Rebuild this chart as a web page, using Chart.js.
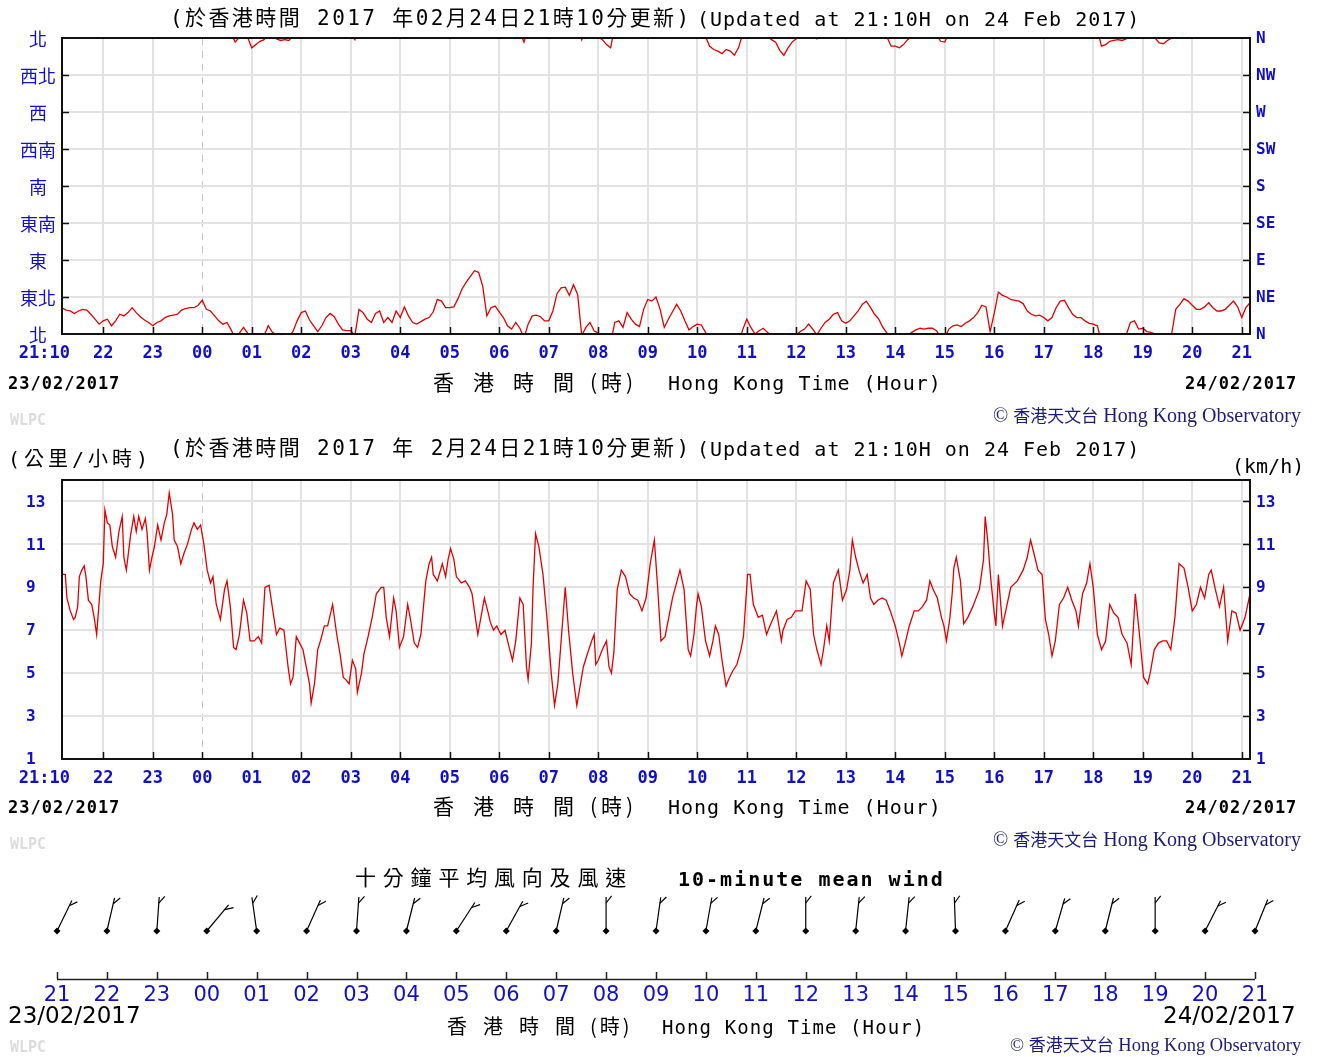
<!DOCTYPE html>
<html><head><meta charset="utf-8">
<script src="https://cdn.jsdelivr.net/npm/chart.js@4.4.1/dist/chart.umd.min.js"></script>
<style>
body{margin:0;background:#fff;width:1320px;height:1057px;position:relative;overflow:hidden;}
canvas{position:absolute;left:0;}
.t{position:absolute;white-space:nowrap;line-height:1;color:#000;}
.mono{font-family:'DejaVu Sans Mono','Noto Sans CJK TC',monospace;}
.cjk{font-family:'Noto Sans CJK TC',sans-serif;}
.date{font-family:'DejaVu Sans Mono',monospace;font-weight:bold;font-size:17px;letter-spacing:1px;}
.wlpc{font-family:'DejaVu Sans Mono',monospace;font-weight:bold;font-size:15px;color:#dcdcdc;}
.hko{font-family:'Liberation Serif',serif;font-size:20px;color:#1c1c7a;}
.hko .c{font-family:'Noto Sans CJK TC',sans-serif;font-size:17px;}
</style></head><body>
<canvas id="c1" width="1320" height="440" style="top:0"></canvas>
<canvas id="c2" width="1320" height="430" style="top:430px"></canvas>
<canvas id="c3" width="1320" height="197" style="top:860px"></canvas>

<!-- panel 1 texts -->
<div class="t mono" style="left:170px;top:8px;font-size:21px;letter-spacing:2.4px;">(於香港時間 2017 年02月24日21時10分更新)</div>
<div class="t mono" style="left:697px;top:9px;font-size:20px;letter-spacing:1px;">(Updated at 21:10H on 24 Feb 2017)</div>
<div class="t date" style="left:8px;top:375px;">23/02/2017</div>
<div class="t date" style="left:1185px;top:375px;">24/02/2017</div>
<div class="t cjk" style="left:433px;top:371px;font-size:21px;letter-spacing:19px;">香港時間</div>
<div class="t cjk" style="left:590px;top:371px;font-size:21px;letter-spacing:4px;">(時)</div>
<div class="t mono" style="left:668px;top:373px;font-size:20px;letter-spacing:1px;">Hong Kong Time (Hour)</div>
<div class="t wlpc" style="left:10px;top:413px;">WLPC</div>
<div class="t hko" style="left:993px;top:405px;">©&nbsp;<span class="c">香港天文台</span> Hong Kong Observatory</div>

<!-- panel 2 texts -->
<div class="t mono" style="left:170px;top:438px;font-size:21px;letter-spacing:2.4px;">(於香港時間 2017 年 2月24日21時10分更新)</div>
<div class="t mono" style="left:697px;top:439px;font-size:20px;letter-spacing:1px;">(Updated at 21:10H on 24 Feb 2017)</div>
<div class="t mono" style="left:8px;top:449px;font-size:20px;letter-spacing:4px;">(公里/小時)</div>
<div class="t mono" style="left:1232px;top:456px;font-size:20px;">(km/h)</div>
<div class="t date" style="left:8px;top:799px;">23/02/2017</div>
<div class="t date" style="left:1185px;top:799px;">24/02/2017</div>
<div class="t cjk" style="left:433px;top:795px;font-size:21px;letter-spacing:19px;">香港時間</div>
<div class="t cjk" style="left:590px;top:795px;font-size:21px;letter-spacing:4px;">(時)</div>
<div class="t mono" style="left:668px;top:797px;font-size:20px;letter-spacing:1px;">Hong Kong Time (Hour)</div>
<div class="t wlpc" style="left:10px;top:837px;">WLPC</div>
<div class="t hko" style="left:993px;top:829px;">©&nbsp;<span class="c">香港天文台</span> Hong Kong Observatory</div>

<!-- panel 3 texts -->
<div class="t cjk" style="left:355px;top:866px;font-size:21px;letter-spacing:6.8px;">十分鐘平均風向及風速</div>
<div class="t mono" style="left:678px;top:869px;font-size:20px;font-weight:bold;letter-spacing:2px;">10-minute mean wind</div>
<div class="t" style="left:8px;top:1004px;font-family:'DejaVu Sans',sans-serif;font-size:23px;">23/02/2017</div>
<div class="t" style="left:1163px;top:1004px;font-family:'DejaVu Sans',sans-serif;font-size:23px;">24/02/2017</div>
<div class="t cjk" style="left:447px;top:1016px;font-size:20px;letter-spacing:16px;">香港時間</div>
<div class="t cjk" style="left:590px;top:1016px;font-size:20px;letter-spacing:3px;">(時)</div>
<div class="t mono" style="left:662px;top:1018px;font-size:19px;letter-spacing:1.1px;">Hong Kong Time (Hour)</div>
<div class="t wlpc" style="left:10px;top:1040px;">WLPC</div>
<div class="t hko" style="left:1010px;top:1035px;font-size:18.5px;">©&nbsp;<span class="c">香港天文台</span> Hong Kong Observatory</div>

<script>
// ---------------- DATA ----------------
// shared time axis (minutes after 21:10 on 23/02/2017)
const xTickLabels = ['21:10','22','23','00','01','02','03','04','05','06','07','08','09','10','11','12','13','14','15','16','17','18','19','20','21'];
const spanMinutes = 1440;

// wind direction (degrees), every 5 minutes from 21:10 to 21:10
const dirStepMinutes = 5;
const windDirection = [
  32,29,28,25,28,30,29,24,18,12,
  16,18,10,16,24,22,26,32,26,21,17,14,
  10,14,16,20,22,23,24,29,31,32,32,35,
  41,30,28,22,16,12,14,5,355,1,8,1,
  348,352,356,358,10,2,359,357,358,357,3,16,
  26,28,17,10,3,10,20,25,21,12,5,4,
  4,358,30,26,18,14,25,28,14,20,14,28,
  20,33,22,14,12,15,18,20,27,42,40,32,
  32,33,43,55,63,70,77,75,58,22,32,34,
  27,20,10,6,14,7,355,12,22,23,21,16,
  16,28,49,56,57,47,60,48,358,8,14,4,
  1,358,352,348,14,16,8,26,18,12,9,30,
  42,40,45,30,8,18,27,36,28,16,5,9,
  12,11,2,350,346,344,341,346,344,339,348,5,
  18,8,0,4,7,2,358,355,345,339,348,355,
  359,3,6,12,6,359,7,14,18,24,26,16,
  13,16,22,28,36,40,32,24,18,8,1,350,
  350,348,352,358,2,5,7,6,7,7,4,356,
  355,6,10,11,9,13,16,20,26,35,33,3,
  25,51,47,45,42,41,40,37,28,24,22,23,
  20,16,20,32,40,41,32,24,20,20,16,13,
  12,10,350,352,356,357,358,357,359,14,16,6,
  7,3,2,0,354,353,357,0,30,36,43,40,
  35,30,30,33,38,32,28,28,30,35,40,33,
  20,32,38
];
const dirTickValues = [0,45,90,135,180,225,270,315,360];
const dirLabelsZh = ['北','東北','東','東南','南','西南','西','西北','北'];
const dirLabelsEn = ['N','NE','E','SE','S','SW','W','NW','N'];

// wind speed (km/h)
const speedMinutes = [0,4,6,10,14,16,19,21,24,27,29,32,36,39,42,47,50,52,55,58,61,65,69,73,75,78,83,87,90,93,97,101,103,106,109,112,116,120,124,127,130,134,136,140,144,148,152,157,160,164,168,172,176,180,183,187,192,197,200,204,208,211,215,220,224,228,233,238,242,246,251,256,260,264,269,274,277,280,284,288,292,296,300,302,306,310,314,318,322,328,333,337,341,344,348,352,356,358,363,366,371,376,381,387,390,393,397,402,405,409,414,419,422,427,431,435,441,445,448,450,455,461,465,468,471,475,478,484,489,494,497,501,504,512,516,519,523,527,532,537,542,546,550,555,559,563,565,569,571,574,578,583,588,593,597,601,605,610,614,619,624,628,632,636,642,645,647,650,655,660,663,666,669,673,678,683,688,693,698,703,708,713,718,722,726,731,740,749,754,759,762,766,769,771,775,780,785,789,792,796,800,805,808,813,818,823,826,831,834,838,844,849,854,858,866,872,874,879,884,889,897,902,907,911,915,920,923,927,930,935,941,946,951,955,958,962,966,971,976,980,984,989,994,999,1004,1010,1015,1018,1022,1027,1033,1038,1043,1048,1052,1056,1061,1066,1069,1072,1076,1079,1081,1084,1089,1093,1098,1104,1112,1117,1119,1122,1126,1130,1132,1135,1140,1145,1150,1158,1165,1170,1174,1178,1183,1188,1192,1196,1200,1204,1209,1214,1219,1224,1229,1232,1237,1242,1246,1250,1255,1260,1265,1270,1275,1280,1285,1291,1296,1301,1306,1311,1316,1319,1324,1329,1334,1339,1344,1349,1354,1360,1365,1370,1375,1380,1385,1390,1393,1398,1403,1408,1413,1418,1423,1428,1434,1440];
const speedValues = [9.6,9.6,8.5,7.9,7.5,7.6,8.1,9.5,9.8,10.0,9.5,8.4,8.2,7.6,6.8,9.3,10.1,12.6,12.0,11.9,10.9,10.4,11.6,12.3,10.4,9.8,11.4,12.3,11.6,12.3,11.7,12.2,11.6,9.8,10.4,10.9,11.9,11.2,12.0,12.4,13.4,12.4,11.2,10.9,10.1,10.6,11.0,11.7,12.0,11.7,11.9,11.0,9.8,9.2,9.5,8.2,7.5,8.9,9.3,8.1,6.2,6.1,6.8,8.4,7.8,6.5,6.5,6.7,6.4,9.0,9.1,7.8,6.8,7.1,7.0,5.3,4.5,4.8,6.7,6.4,6.1,5.3,4.5,3.6,4.5,6.1,6.6,7.2,7.2,8.2,6.8,5.9,4.8,4.7,4.5,5.6,5.2,4.1,5.0,5.9,6.7,7.6,8.7,9.0,9.0,7.6,6.7,8.5,7.9,6.2,6.7,8.2,7.6,6.4,6.2,6.8,9.3,10.1,10.4,9.6,9.3,10.1,9.5,10.3,10.8,10.3,9.5,9.2,9.3,9.0,8.7,7.6,6.8,8.5,7.9,7.4,7.0,7.2,6.8,7.0,6.2,5.6,6.5,8.5,8.2,5.3,4.7,6.4,9.0,11.5,10.9,9.6,7.5,5.0,3.5,4.5,6.5,9.0,7.0,5.0,3.5,4.4,5.3,5.8,6.5,6.8,5.4,5.6,6.1,6.5,5.3,5.0,6.0,8.9,9.8,9.5,8.7,8.5,8.4,7.9,8.5,10.1,11.2,9.0,6.5,6.7,8.5,9.8,8.9,6.1,5.8,6.8,8.1,8.7,8.1,6.5,5.8,6.5,7.2,6.8,5.6,4.4,4.7,5.1,5.4,6.1,6.7,9.6,9.6,8.2,7.6,7.7,6.8,7.2,7.9,6.5,7.0,7.5,7.6,7.9,7.9,9.3,8.9,6.8,6.1,5.4,6.1,7.2,6.5,9.2,9.8,8.4,8.9,9.8,11.2,10.4,9.8,9.2,9.6,8.5,8.2,8.4,8.5,8.4,7.9,7.2,6.4,5.8,6.4,7.2,7.9,7.9,8.1,8.4,9.3,8.9,8.5,7.6,7.2,6.5,7.5,8.7,9.9,10.4,9.3,7.3,7.6,8.1,8.9,10.3,12.3,11.2,9.3,7.8,7.2,9.6,7.2,8.1,9.0,9.3,9.8,10.4,11.2,10.6,9.8,9.6,7.5,6.8,5.8,6.5,8.2,8.5,9.0,8.4,7.9,7.2,8.7,9.2,10.1,9.0,6.8,6.1,6.5,8.2,7.8,7.6,6.8,6.4,5.4,8.7,6.8,4.8,4.5,5.0,6.1,6.4,6.5,6.5,6.1,7.6,10.1,9.9,9.0,7.9,8.2,9.0,8.5,9.6,9.8,8.9,8.1,9.0,6.5,7.9,7.8,7.0,7.6,8.7];
const speedTickValues = [1,3,5,7,9,11,13];

// hourly 10-minute mean wind (barbs)
const barbHourLabels = ['21','22','23','00','01','02','03','04','05','06','07','08','09','10','11','12','13','14','15','16','17','18','19','20','21'];
const barbDirections = [26,13,4,40,352,24,4,14,33,29,13,0,8,10,14,0,6,6,358,24,16,14,0,27,22];
const barbSpeeds = [9.0,10.1,10.4,11.9,6.5,6.3,5.0,6.4,10.5,7.0,6.5,5.6,9.0,8.5,9.3,7.9,8.9,7.2,7.2,7.8,8.5,9.0,5.0,7.9,7.0];

// ---------------- RENDER ----------------
const BLUE = '#1010c8';
const GRID = '#e2e2e2';
const RED = '#e00000';
const xTickMinutes = xTickLabels.map((_, i) => i === 0 ? 0 : 50 + 60 * (i - 1));

function makePanelPlugin(cfg) {
  return {
    id: 'panel_' + cfg.name,
    beforeDatasetsDraw(chart) {
      const {ctx, chartArea: a, scales: {x, y}} = chart;
      ctx.save();
      ctx.lineWidth = 2;
      ctx.strokeStyle = GRID;
      xTickMinutes.forEach((v, i) => {
        if (v <= x.min || v >= x.max) return;
        const px = Math.round(x.getPixelForValue(v));
        ctx.beginPath();
        if (xTickLabels[i] === '00') {
          ctx.save(); ctx.setLineDash([7, 6]); ctx.lineWidth = 1; ctx.strokeStyle = '#c4c4c4';
          ctx.moveTo(px + 0.5, a.top); ctx.lineTo(px + 0.5, a.bottom); ctx.stroke(); ctx.restore();
          return;
        }
        ctx.moveTo(px, a.top); ctx.lineTo(px, a.bottom); ctx.stroke();
      });
      cfg.yTicks.forEach(v => {
        if (v <= y.min || v >= y.max) return;
        const py = Math.round(y.getPixelForValue(v));
        ctx.beginPath(); ctx.moveTo(a.left, py); ctx.lineTo(a.right, py); ctx.stroke();
      });
      ctx.restore();
    },
    afterDatasetsDraw(chart) {
      const {ctx, chartArea: a, scales: {x, y}} = chart;
      ctx.save();
      ctx.strokeStyle = '#111'; ctx.lineWidth = 2;
      ctx.strokeRect(a.left, a.top, a.right - a.left, a.bottom - a.top);
      ctx.lineWidth = 1.5;
      xTickMinutes.forEach(v => {
        if (v <= x.min || v >= x.max) return;
        const px = Math.round(x.getPixelForValue(v)) + 0.5;
        ctx.beginPath(); ctx.moveTo(px, a.bottom); ctx.lineTo(px, a.bottom - 7); ctx.stroke();
      });
      cfg.yTicks.forEach(v => {
        if (v <= y.min || v >= y.max) return;
        const py = Math.round(y.getPixelForValue(v)) + 0.5;
        if (cfg.leftTicks) { ctx.beginPath(); ctx.moveTo(a.left, py); ctx.lineTo(a.left + 7, py); ctx.stroke(); }
        ctx.beginPath(); ctx.moveTo(a.right, py); ctx.lineTo(a.right - 7, py); ctx.stroke();
      });
      ctx.fillStyle = BLUE;
      ctx.font = "bold 17px 'DejaVu Sans Mono'";
      ctx.textBaseline = 'middle';
      xTickMinutes.forEach((v, i) => {
        const px = x.getPixelForValue(v);
        if (i === 0) { ctx.textAlign = 'right'; ctx.fillText(xTickLabels[i], px + 8, a.bottom + 20); }
        else { ctx.textAlign = 'center'; ctx.fillText(xTickLabels[i], px, a.bottom + 20); }
      });
      cfg.yTicks.forEach((v, i) => {
        const py = y.getPixelForValue(v);
        ctx.font = cfg.leftFont; ctx.textAlign = cfg.leftAlign;
        ctx.fillText(cfg.leftLabels[i], cfg.leftX, py + 1);
        ctx.font = "bold 16px 'DejaVu Sans Mono'"; ctx.textAlign = 'left';
        ctx.fillText(cfg.rightLabels[i], a.right + 6, py + 1);
      });
      ctx.restore();
    }
  };
}

Chart.defaults.animation = false;

// Panel 1: wind direction (values near north drawn on both edges)
const dirUnwrapped = windDirection.map(v => v > 180 ? v - 360 : v);
const dirPts = dirUnwrapped.map((v, i) => ({x: i * dirStepMinutes, y: v}));
const dirPtsShift = dirUnwrapped.map((v, i) => ({x: i * dirStepMinutes, y: v + 360}));
new Chart(document.getElementById('c1'), {
  type: 'line',
  data: {datasets: [
    {data: dirPts, borderColor: RED, borderWidth: 1.3, pointRadius: 0, tension: 0, clip: 0},
    {data: dirPtsShift, borderColor: RED, borderWidth: 1.3, pointRadius: 0, tension: 0, clip: 0}
  ]},
  options: {
    responsive: false, events: [],
    layout: {padding: {left: 62, right: 70, top: 38, bottom: 106}},
    scales: {x: {type: 'linear', min: 0, max: spanMinutes, display: false},
             y: {type: 'linear', min: 0, max: 360, display: false}},
    plugins: {legend: {display: false}, tooltip: {enabled: false}}
  },
  plugins: [makePanelPlugin({name: 'dir', yTicks: dirTickValues, leftLabels: dirLabelsZh, rightLabels: dirLabelsEn,
    leftFont: "18px 'Noto Sans CJK TC'", leftAlign: 'center', leftX: 38, leftTicks: true})]
});

// Panel 2: wind speed
const speedPts = speedValues.map((v, i) => ({x: speedMinutes[i], y: v}));
new Chart(document.getElementById('c2'), {
  type: 'line',
  data: {datasets: [
    {data: speedPts, borderColor: RED, borderWidth: 1.3, pointRadius: 0, tension: 0, clip: 0}
  ]},
  options: {
    responsive: false, events: [],
    layout: {padding: {left: 62, right: 70, top: 50, bottom: 101}},
    scales: {x: {type: 'linear', min: 0, max: spanMinutes, display: false},
             y: {type: 'linear', min: 1, max: 14, display: false}},
    plugins: {legend: {display: false}, tooltip: {enabled: false}}
  },
  plugins: [makePanelPlugin({name: 'spd', yTicks: speedTickValues, leftLabels: speedTickValues.map(String),
    rightLabels: speedTickValues.map(String),
    leftFont: "bold 16px 'DejaVu Sans Mono'", leftAlign: 'left', leftX: 26, leftTicks: false})]
});

// Panel 3: wind barbs
const barbPlugin = {
  id: 'barbs',
  beforeDatasetsDraw(chart) {
    const {ctx, chartArea: a, scales: {x}} = chart;
    ctx.save();
    ctx.strokeStyle = '#222'; ctx.lineWidth = 1.5;
    ctx.beginPath(); ctx.moveTo(a.left, a.bottom + 0.5); ctx.lineTo(a.right, a.bottom + 0.5); ctx.stroke();
    barbHourLabels.forEach((lab, i) => {
      const px = Math.round(x.getPixelForValue(i)) + 0.5;
      ctx.beginPath(); ctx.moveTo(px, a.bottom); ctx.lineTo(px, a.bottom - 7); ctx.stroke();
    });
    ctx.fillStyle = BLUE; ctx.font = "21px 'DejaVu Sans'"; ctx.textAlign = 'center'; ctx.textBaseline = 'middle';
    barbHourLabels.forEach((lab, i) => ctx.fillText(lab, x.getPixelForValue(i), a.bottom + 17));
    const meta = chart.getDatasetMeta(0);
    ctx.strokeStyle = '#000'; ctx.lineWidth = 1.2;
    meta.data.forEach((pt, i) => {
      const d = barbDirections[i] * Math.PI / 180;
      const L = 34;
      const x1 = pt.x + L * Math.sin(d), y1 = pt.y - L * Math.cos(d);
      ctx.beginPath(); ctx.moveTo(pt.x, pt.y); ctx.lineTo(x1, y1); ctx.stroke();
      if (barbSpeeds[i] > 0) {
        const sx = pt.x + (L - 6) * Math.sin(d), sy = pt.y - (L - 6) * Math.cos(d);
        const f = d + 38 * Math.PI / 180;
        ctx.beginPath(); ctx.moveTo(sx, sy); ctx.lineTo(sx + 9 * Math.sin(f), sy - 9 * Math.cos(f)); ctx.stroke();
      }
    });
    ctx.restore();
  }
};
new Chart(document.getElementById('c3'), {
  type: 'scatter',
  data: {datasets: [{data: barbHourLabels.map((_, i) => ({x: i, y: 1})), pointStyle: 'rectRot', pointRadius: 3.5,
    backgroundColor: '#000', borderColor: '#000', borderWidth: 0, clip: false}]},
  options: {
    responsive: false, events: [],
    layout: {padding: {left: 57, right: 65, top: 23, bottom: 78}},
    scales: {x: {type: 'linear', min: 0, max: 24, display: false}, y: {min: 0, max: 2, display: false}},
    plugins: {legend: {display: false}, tooltip: {enabled: false}}
  },
  plugins: [barbPlugin]
});
</script>
</body></html>
